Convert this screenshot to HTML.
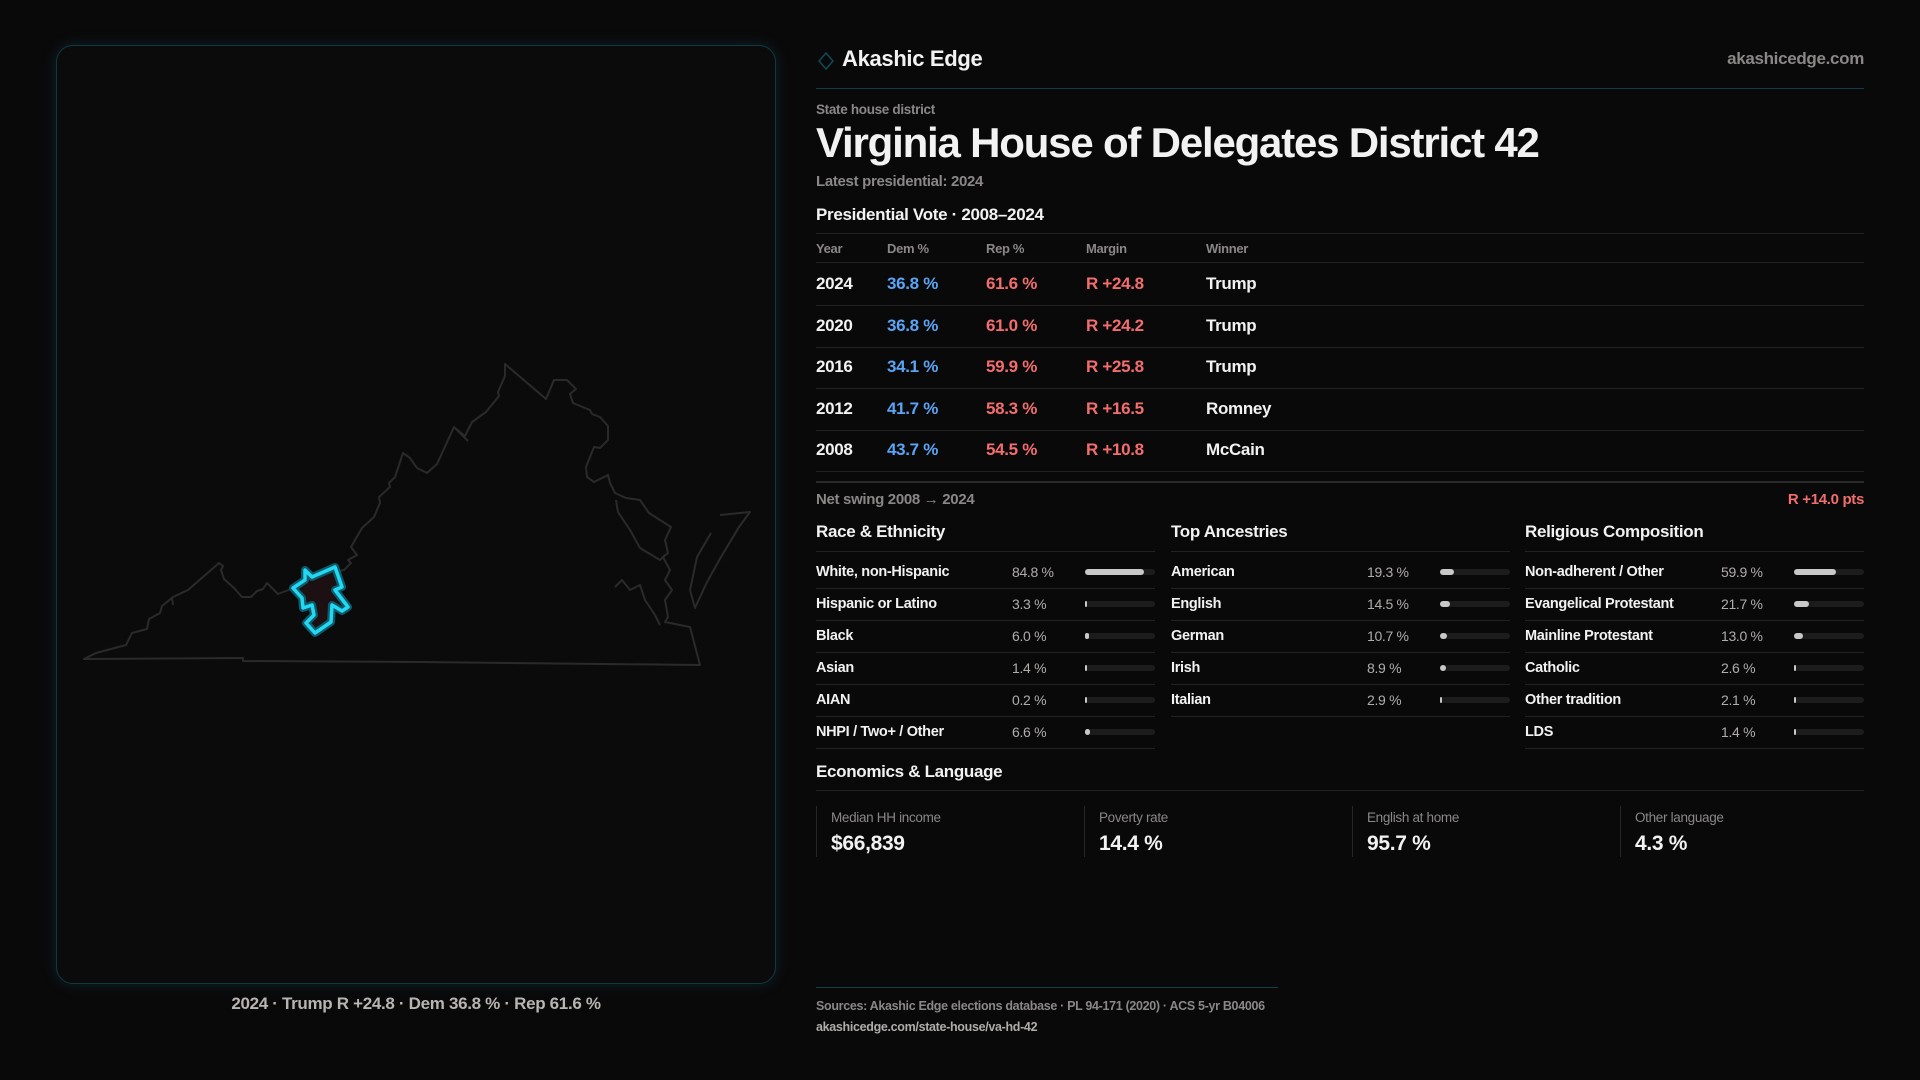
<!DOCTYPE html>
<html><head><meta charset="utf-8"><style>
*{margin:0;padding:0;box-sizing:border-box}
body{width:1920px;height:1080px;background:#0a090a;font-family:"Liberation Sans",sans-serif;color:#f2f2f2;position:relative;overflow:hidden;letter-spacing:-0.02em}
.a{position:absolute;white-space:nowrap}
.g{color:#8a8786}
.panel{position:absolute;left:56px;top:45px;width:720px;height:939px;border:1.5px solid #0f3a44;border-radius:17px;background:#0c0b0c;box-shadow:0 0 14px rgba(20,110,130,.25)}
.hl{position:absolute;height:1px;background:#222}
.row{position:absolute;left:816px;font-size:17px;font-weight:bold;top:1px}
.dem{color:#5aa4f5}.rep{color:#f26d6d}
.lbl{font-size:14.5px;font-weight:bold;color:#f2f2f2}
.val{font-size:14px;color:#b0acaa}
.bar{position:absolute;height:6px;width:70px;background:#1c1c1d;border-radius:3px}
.bar i{display:block;height:6px;background:#c8c8c8;border-radius:3px}
.sh{font-size:17px;font-weight:bold}
.card{position:absolute;top:806px;height:51px;border-left:1px solid #262626;width:268px}
.card .l{position:absolute;left:14px;top:4px;font-size:13.5px;color:#8a8786}
.card .v{position:absolute;left:14px;top:26px;font-size:21px;font-weight:bold}
</style></head><body>
<div class="panel"></div>
<svg class="a" style="left:0;top:0" width="800" height="1000">
<g fill="none" stroke="#2b2a2a" stroke-width="2" stroke-linejoin="round">
<path d="M84,659 L96,653 L126,645 L132,633 L147,629 L149,619 L160,613 L162,606 L173,597 L188,590 L219,563 L223,566 L221,570 L224,579 L234,588 L242,597 L251,597 L257,591 L263,589 L267,583 L278,594 L291,589 L312,577 L344,570 L351,563 L348,560 L357,555 L351,547 L362,528 L374,517 L380,503 L379,497 L390,487 L389,483 L395,477 L403,453 L410,458 L417,468 L427,473 L437,464 L454,427 L465,436 L472,422 L486,412 L499,396 L498,392 L505,376 L505,364 L546,399 L554,380 L567,380 L576,389 L570,394 L573,403 L590,410 L592,414 L600,417 L608,426 L608,440 L600,448 L594,447 L586,467 L587,477 L594,482 L608,475 L610,483 L615,493 L626,498 L640,500 L649,513 L671,527 L665,540 L668,553 L663,557 L670,570 L665,580 L672,590 L665,600 L668,617 L665,622 L690,627 L700,665 L420,662 L243,661 L243,658 Z"/>
<path d="M454,427 L468,441"/>
<path d="M616,500 L618,512 L630,530 L640,548 L660,560 L665,555"/>
<path d="M615,587 L622,580 L630,590 L640,585 L645,600 L655,615 L660,625"/>
<path d="M720,515 L750,512 L739,527 L721,557 L707,582 L695,608 L690,590 L697,557 L711,533"/>
<path d="M172,597 L173,605"/>
</g>
<path d="M335,567 L342,587 L335,590 L348,607 L342,611 L332,605 L331,622 L315,633 L306,623 L314,615 L312,605 L303,608 L302,598 L293,588 L305,580 L305,570 L312,577 Z" fill="#1c1012" stroke="#0e5a6a" stroke-width="8" stroke-linejoin="round"/>
<path d="M335,567 L342,587 L335,590 L348,607 L342,611 L332,605 L331,622 L315,633 L306,623 L314,615 L312,605 L303,608 L302,598 L293,588 L305,580 L305,570 L312,577 Z" fill="none" stroke="#22d8f2" stroke-width="3.5" stroke-linejoin="round"/>
</svg>
<div class="a" style="left:56px;width:720px;text-align:center;top:994px;font-size:17px;font-weight:bold;color:#b8b4b2">2024 · Trump R +24.8 · Dem 36.8 % · Rep 61.6 %</div>

<svg class="a" style="left:817px;top:51px" width="18" height="20"><path d="M9,2 L16,10 L9,18 L2,10 Z" fill="none" stroke="#0f4a55" stroke-width="1.5"/></svg>
<div class="a" style="left:842px;top:46px;font-size:22px;font-weight:bold">Akashic Edge</div>
<div class="a g" style="right:56px;top:49px;font-size:17px;font-weight:bold">akashicedge.com</div>
<div class="hl" style="left:816px;width:1048px;top:88px;background:#113e47"></div>
<div class="a g" style="left:816px;top:102px;font-size:13.5px;font-weight:bold">State house district</div>
<div class="a" style="left:816px;top:119px;font-size:42px;font-weight:bold;letter-spacing:-1.2px">Virginia House of Delegates District 42</div>
<div class="a g" style="left:816px;top:173px;font-size:15px;font-weight:bold">Latest presidential: 2024</div>
<div class="a" style="left:816px;top:205px;font-size:17px;font-weight:bold">Presidential Vote · 2008–2024</div>
<div class="hl" style="left:816px;width:1048px;top:233px"></div>
<div class="a g" style="left:816px;top:241px;font-size:13px;font-weight:bold">Year</div>
<div class="a g" style="left:887px;top:241px;font-size:13px;font-weight:bold">Dem %</div>
<div class="a g" style="left:986px;top:241px;font-size:13px;font-weight:bold">Rep %</div>
<div class="a g" style="left:1086px;top:241px;font-size:13px;font-weight:bold">Margin</div>
<div class="a g" style="left:1206px;top:241px;font-size:13px;font-weight:bold">Winner</div>
<div class="hl" style="left:816px;width:1048px;top:262px"></div>

<div class="a row" style="top:274px">2024</div><div class="a row dem" style="left:887px;top:274px">36.8 %</div><div class="a row rep" style="left:986px;top:274px">61.6 %</div><div class="a row rep" style="left:1086px;top:274px">R +24.8</div><div class="a row" style="left:1206px;top:274px">Trump</div>
<div class="hl" style="left:816px;width:1048px;top:305px"></div>
<div class="a row" style="top:316px">2020</div><div class="a row dem" style="left:887px;top:316px">36.8 %</div><div class="a row rep" style="left:986px;top:316px">61.0 %</div><div class="a row rep" style="left:1086px;top:316px">R +24.2</div><div class="a row" style="left:1206px;top:316px">Trump</div>
<div class="hl" style="left:816px;width:1048px;top:347px"></div>
<div class="a row" style="top:357px">2016</div><div class="a row dem" style="left:887px;top:357px">34.1 %</div><div class="a row rep" style="left:986px;top:357px">59.9 %</div><div class="a row rep" style="left:1086px;top:357px">R +25.8</div><div class="a row" style="left:1206px;top:357px">Trump</div>
<div class="hl" style="left:816px;width:1048px;top:388px"></div>
<div class="a row" style="top:399px">2012</div><div class="a row dem" style="left:887px;top:399px">41.7 %</div><div class="a row rep" style="left:986px;top:399px">58.3 %</div><div class="a row rep" style="left:1086px;top:399px">R +16.5</div><div class="a row" style="left:1206px;top:399px">Romney</div>
<div class="hl" style="left:816px;width:1048px;top:430px"></div>
<div class="a row" style="top:440px">2008</div><div class="a row dem" style="left:887px;top:440px">43.7 %</div><div class="a row rep" style="left:986px;top:440px">54.5 %</div><div class="a row rep" style="left:1086px;top:440px">R +10.8</div><div class="a row" style="left:1206px;top:440px">McCain</div>
<div class="hl" style="left:816px;width:1048px;top:471px"></div>
<div class="hl" style="left:816px;width:1048px;top:481px;height:2px;background:#2a2a2a"></div>
<div class="a g" style="left:816px;top:491px;font-size:15px;font-weight:bold">Net swing 2008 → 2024</div>
<div class="a rep" style="right:56px;top:491px;font-size:15px;font-weight:bold">R +14.0 pts</div>

<div id="cols"></div>
<script>
const cols=[[816,"Race & Ethnicity",[["White, non-Hispanic",84.8],["Hispanic or Latino",3.3],["Black",6.0],["Asian",1.4],["AIAN",0.2],["NHPI / Two+ / Other",6.6]]],
[1171,"Top Ancestries",[["American",19.3],["English",14.5],["German",10.7],["Irish",8.9],["Italian",2.9]]],
[1525,"Religious Composition",[["Non-adherent / Other",59.9],["Evangelical Protestant",21.7],["Mainline Protestant",13.0],["Catholic",2.6],["Other tradition",2.1],["LDS",1.4]]]];
let h="";
for(const [x,t,rows] of cols){
h+=`<div class="a sh" style="left:${x}px;top:522px">${t}</div><div class="hl" style="left:${x}px;width:339px;top:551px"></div>`;
rows.forEach((r,i)=>{const y=572+i*32;
h+=`<div class="a lbl" style="left:${x}px;top:${y-8}px">${r[0]}</div><div class="a val" style="left:${x+196}px;top:${y-8}px">${r[1].toFixed(1)} %</div><div class="bar" style="left:${x+269}px;top:${y-3}px"><i style="width:${Math.max(2,r[1]*0.7)}px"></i></div><div class="hl" style="left:${x}px;width:339px;top:${y+16}px"></div>`;});
}
document.getElementById("cols").innerHTML=h;
</script>

<div class="a sh" style="left:816px;top:762px">Economics &amp; Language</div>
<div class="hl" style="left:816px;width:1048px;top:790px"></div>
<div class="card" style="left:816px"><div class="l">Median HH income</div><div class="v">$66,839</div></div>
<div class="card" style="left:1084px"><div class="l">Poverty rate</div><div class="v">14.4 %</div></div>
<div class="card" style="left:1352px"><div class="l">English at home</div><div class="v">95.7 %</div></div>
<div class="card" style="left:1620px"><div class="l">Other language</div><div class="v">4.3 %</div></div>

<div class="hl" style="left:816px;width:462px;top:987px;background:#113e47"></div>
<div class="a g" style="left:816px;top:999px;font-size:12.5px;font-weight:bold">Sources: Akashic Edge elections database · PL 94-171 (2020) · ACS 5-yr B04006</div>
<div class="a" style="left:816px;top:1020px;font-size:12.5px;font-weight:bold;color:#b0acaa">akashicedge.com/state-house/va-hd-42</div>
</body></html>
